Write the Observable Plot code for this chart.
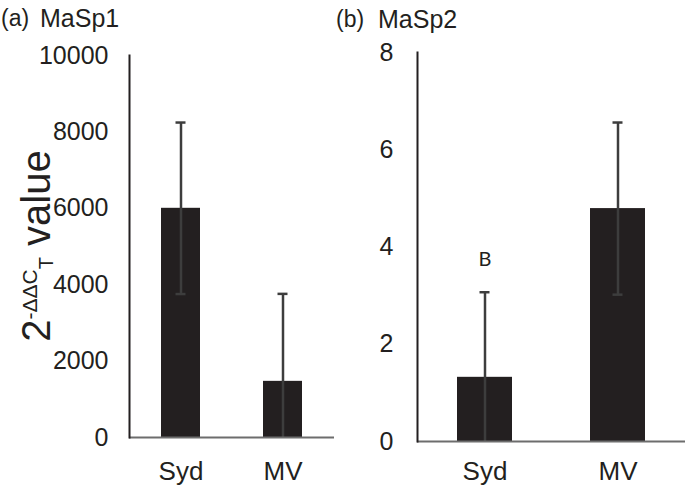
<!DOCTYPE html>
<html><head><meta charset="utf-8">
<script src="https://cdn.jsdelivr.net/npm/d3@7"></script>
<script src="https://cdn.jsdelivr.net/npm/@observablehq/plot@0.6"></script>
<style>
body{margin:0;background:#fff;}
#wrap{position:relative;width:685px;height:493px;font-family:"Liberation Sans",Arial,sans-serif;color:#231f20;overflow:hidden;background:#fff}
.panel{position:absolute;top:0}
.ttl{position:absolute;font-size:25px;line-height:1;white-space:pre;color:#231f20}
</style></head><body><div id="wrap"></div>
<script>
// ---- data ----
const groups = ["Syd", "MV"];
const masp1Mean = [6000, 1470];
const masp1Err = [2245, 2290];
const masp2Mean = [1.32, 4.79];
const masp2Err = [1.75, 1.77];
const masp2Sig = ["B", ""];
const masp1Ticks = [0, 2000, 4000, 6000, 8000, 10000];
const masp2Ticks = [0, 2, 4, 6, 8];
const panelTitles = [["(a)", "MaSp1"], ["(b)", "MaSp2"]];

const mk = (means, errs, sig) => groups.map((g, i) => ({
  g, v: means[i], hi: means[i] + errs[i], lo: Math.max(0, means[i] - errs[i]), sig: sig ? sig[i] : ""
}));
const d1 = mk(masp1Mean, masp1Err);
const d2 = mk(masp2Mean, masp2Err, masp2Sig);

const ink = "#231f20", errInk = "#3d3d3d", baseInk = "#6d6d6d";
const font = '"Liberation Sans", Arial, sans-serif';

function panel(data, opts) {
  const capInset = opts.capInset;
  return Plot.plot({
    width: opts.width, height: 493,
    marginLeft: opts.ml, marginRight: opts.mr, marginTop: opts.mt, marginBottom: opts.mb,
    style: {fontFamily: font, fontSize: "25px", color: ink, background: "transparent", overflow: "visible"},
    x: {domain: groups, paddingInner: opts.pi, paddingOuter: opts.po, label: null},
    y: {domain: opts.ydomain, label: null},
    marks: [
      Plot.barY(data, {x: "g", y: "v", fill: ink}),
      Plot.ruleX(data, {x: "g", y1: "lo", y2: "hi", stroke: errInk, strokeWidth: 2.5}),
      Plot.tickY(data, {x: "g", y: "hi", stroke: errInk, strokeWidth: 2.5, insetLeft: capInset, insetRight: capInset}),
      Plot.tickY(data.filter(d => d.lo > 0), {x: "g", y: "lo", stroke: errInk, strokeWidth: 2.5, insetLeft: capInset, insetRight: capInset}),
      Plot.text(data, {x: "g", y: "hi", text: "sig", dy: -33, fontSize: 20, fontFamily: "Lato, sans-serif", fill: ink}),
      Plot.ruleY([0], {stroke: baseInk, strokeWidth: 2}),
      Plot.frame({anchor: "left", stroke: ink, strokeWidth: 2}),
      Plot.axisY({ticks: opts.ticks, tickSize: 0, tickPadding: opts.ytp, tickFormat: d3.format("d"), label: null, fontSize: 25}),
      Plot.axisX({tickSize: 0, tickPadding: opts.xtp, label: null, fontSize: 26})
    ]
  });
}

const wrap = document.getElementById("wrap");
const p1 = panel(d1, {width: 340, ml: 129, mr: 6, mt: 55, mb: 56, pi: 0.62, po: 0.31, ydomain: [0, 10000], ticks: masp1Ticks, ytp: 21, xtp: 24, capInset: 14.5});
p1.classList.add("panel"); p1.style.left = "0px";
wrap.appendChild(p1);
const p2 = panel(d2, {width: 345, ml: 77, mr: 0, mt: 52, mb: 52, pi: 0.588, po: 0.298, ydomain: [0, 8], ticks: masp2Ticks, ytp: 24, xtp: 20, capInset: 22.5});
p2.classList.add("panel"); p2.style.left = "340px";
wrap.appendChild(p2);

// panel titles
const titlePos = [[1, 40, 7], [336, 378, 8]];
panelTitles.forEach((t, i) => {
  const [xa, xb, top] = titlePos[i];
  const a = document.createElement("div"); a.className = "ttl"; a.textContent = t[0];
  a.style.left = xa + "px"; a.style.top = top + "px"; a.style.fontSize = "23px"; wrap.appendChild(a);
  const b = document.createElement("div"); b.className = "ttl"; b.textContent = t[1];
  b.style.left = xb + "px"; b.style.top = (top - 1) + "px"; wrap.appendChild(b);
});

// y-axis title 2^-ΔΔC_T value
const svg = d3.select(wrap).append("svg")
  .attr("width", 685).attr("height", 493)
  .style("position", "absolute").style("left", 0).style("top", 0).style("pointer-events", "none");
const t = svg.append("text")
  .attr("transform", "translate(50,246) rotate(-90)")
  .attr("text-anchor", "middle")
  .attr("font-family", font).attr("fill", ink).attr("font-size", 40);
t.append("tspan").text("2");
t.append("tspan").attr("font-size", 21).attr("dy", -13).text("-ΔΔC");
t.append("tspan").attr("font-size", 20).attr("dy", 16).text("T");
t.append("tspan").attr("dy", -3).text(" value");
</script>
</body></html>
